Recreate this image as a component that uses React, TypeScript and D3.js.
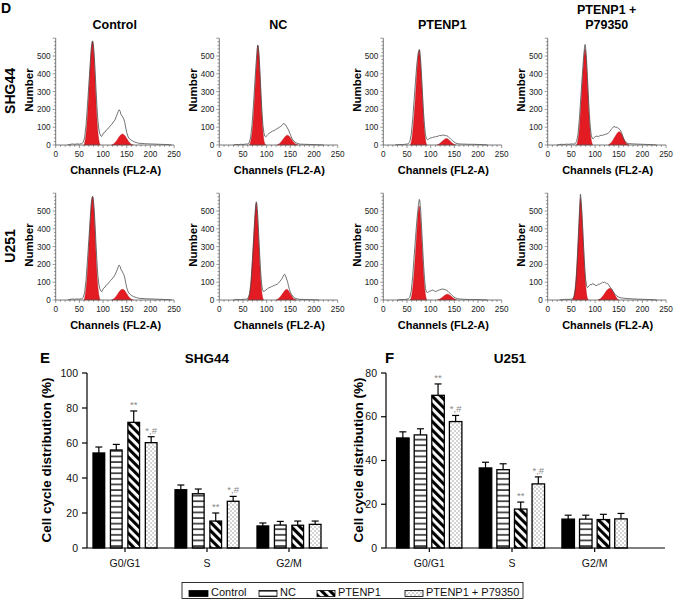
import React from "react";
import * as d3 from "d3";

// ---------- Flow cytometry histograms (channel, count) ----------
const CHANNEL_TICKS = [0, 50, 100, 150, 200, 250];
const COUNT_TICKS = [0, 100, 200, 300, 400, 500];
const HIST_TITLES = ["Control", "NC", "PTENP1", "PTENP1 + P79350"];
const CELL_LINES = ["SHG44", "U251"];

type P = [number, number];

const SHG44_CONTROL_LINE: P[] = [[25,0],[30,3],[35,6],[40,4],[45,6],[50,5],[55,8],[58,15],[61,40],[64,110],[67,220],[70,340],[73,460],[75,540],[77,580],[78,585],[79,575],[81,520],[83,430],[85,320],[87,220],[89,140],[91,90],[93,65],[95,52],[97,48],[99,58],[101,68],[104,72],[107,85],[110,90],[113,100],[116,110],[119,118],[122,130],[125,140],[128,160],[130,175],[132,188],[134,198],[136,190],[138,170],[140,165],[142,155],[144,145],[146,125],[148,95],[150,70],[153,45],[156,34],[160,26],[165,19],[170,14],[175,10],[180,9],[190,7],[200,6],[210,5],[220,4],[230,3],[240,2],[245,0]];
const SHG44_CONTROL_G1: P[] = [[60,0],[63,40],[66,120],[69,250],[72,400],[75,530],[77,578],[78,582],[80,540],[82,440],[84,320],[86,200],[88,110],[90,50],[92,15],[94,0]];
const SHG44_CONTROL_G2: P[] = [[118,0],[122,5],[126,15],[130,30],[134,47],[138,58],[141,62],[144,58],[148,45],[152,28],[156,12],[160,4],[164,0]];

const SHG44_NC_LINE: P[] = [[30,0],[35,3],[40,2],[45,4],[50,3],[55,5],[60,6],[63,12],[66,40],[69,110],[72,220],[75,350],[78,470],[80,540],[81,562],[82,555],[84,500],[86,400],[88,290],[90,190],[92,115],[94,70],[96,50],[98,45],[100,52],[103,60],[106,68],[109,72],[112,78],[115,80],[118,85],[121,90],[124,95],[127,100],[130,105],[133,112],[136,122],[138,118],[140,112],[143,100],[146,85],[149,65],[152,45],[155,30],[158,20],[162,12],[166,8],[170,5],[180,4],[190,3],[200,2],[210,1],[220,0]];
const SHG44_NC_G1: P[] = [[64,0],[67,30],[70,90],[73,200],[76,340],[79,480],[81,555],[82,558],[84,500],[86,390],[88,270],[90,160],[92,80],[94,30],[96,8],[98,0]];
const SHG44_NC_G2: P[] = [[122,0],[126,6],[130,16],[134,30],[138,44],[142,54],[144,55],[147,50],[151,38],[155,22],[159,10],[163,3],[166,0]];

const SHG44_PTENP1_LINE: P[] = [[25,0],[30,2],[35,3],[40,2],[45,4],[50,5],[53,8],[56,20],[59,60],[62,140],[65,250],[68,360],[71,460],[74,520],[76,537],[77,530],[79,470],[81,380],[83,280],[85,180],[87,110],[89,60],[91,35],[93,30],[95,32],[98,38],[101,40],[104,42],[107,45],[110,46],[113,48],[116,50],[119,54],[122,52],[125,56],[128,55],[131,53],[134,52],[137,48],[140,40],[143,32],[146,25],[149,18],[152,12],[156,8],[160,6],[170,5],[180,4],[190,4],[200,3],[210,2],[220,0]];
const SHG44_PTENP1_G1: P[] = [[57,0],[60,30],[63,100],[66,200],[69,320],[72,450],[75,530],[76,532],[78,490],[80,400],[82,300],[84,200],[86,110],[88,50],[90,15],[92,0]];
const SHG44_PTENP1_G2: P[] = [[113,0],[117,4],[121,12],[125,22],[129,31],[133,36],[136,34],[139,28],[142,20],[146,10],[150,3],[153,0]];

const SHG44_P79350_LINE: P[] = [[20,0],[25,3],[30,4],[35,3],[40,5],[45,4],[50,6],[55,5],[58,8],[61,20],[64,60],[67,150],[70,270],[73,390],[76,500],[78,555],[79,565],[80,550],[82,480],[84,380],[86,270],[88,170],[90,100],[92,55],[94,38],[96,35],[98,42],[101,48],[104,50],[107,47],[110,52],[113,55],[116,54],[119,58],[122,60],[125,62],[128,68],[131,75],[134,88],[137,95],[140,105],[142,102],[144,98],[146,100],[148,96],[150,92],[153,85],[156,70],[159,45],[162,25],[166,12],[170,8],[180,6],[190,5],[200,4],[210,3],[220,2],[230,0]];
const SHG44_P79350_G1: P[] = [[61,0],[64,30],[67,100],[70,220],[73,350],[76,470],[78,530],[79,540],[81,500],[83,400],[85,290],[87,180],[89,100],[91,45],[93,15],[95,0]];
const SHG44_P79350_G2: P[] = [[128,0],[132,8],[136,20],[140,38],[144,55],[148,70],[151,75],[154,70],[158,50],[162,28],[166,10],[169,3],[172,0]];

const U251_CONTROL_LINE: P[] = [[25,0],[30,3],[35,6],[40,4],[45,6],[50,5],[55,7],[58,14],[61,40],[64,110],[67,220],[70,340],[73,460],[75,540],[77,578],[78,583],[79,572],[81,520],[83,430],[85,320],[87,220],[89,140],[91,90],[93,65],[95,52],[97,46],[99,56],[101,66],[104,72],[107,84],[110,90],[113,100],[116,110],[119,118],[122,128],[125,140],[128,158],[130,172],[132,186],[134,196],[136,188],[138,170],[140,163],[142,152],[144,142],[146,122],[148,94],[150,70],[153,45],[156,34],[160,26],[165,18],[170,14],[175,10],[180,9],[190,7],[200,6],[210,5],[220,4],[230,3],[240,2],[245,0]];
const U251_CONTROL_G1: P[] = [[60,0],[63,40],[66,120],[69,250],[72,400],[75,530],[77,576],[78,580],[80,540],[82,440],[84,320],[86,200],[88,110],[90,50],[92,15],[94,0]];
const U251_CONTROL_G2: P[] = [[118,0],[122,5],[126,15],[130,30],[134,46],[138,57],[141,60],[144,57],[148,44],[152,27],[156,12],[160,4],[164,0]];

const U251_NC_LINE: P[] = [[30,0],[35,2],[40,3],[45,2],[50,4],[55,4],[58,6],[61,12],[64,35],[67,100],[70,220],[73,360],[75,460],[77,530],[78,552],[79,545],[81,480],[83,380],[85,270],[87,170],[89,100],[91,60],[93,48],[95,50],[98,55],[101,62],[104,68],[107,70],[110,75],[113,78],[116,82],[119,85],[122,88],[125,95],[128,105],[131,115],[134,128],[136,140],[138,145],[140,135],[142,118],[144,105],[146,80],[148,60],[150,45],[153,30],[156,18],[160,10],[165,6],[170,4],[180,3],[190,2],[200,1],[210,0]];
const U251_NC_G1: P[] = [[60,0],[63,25],[66,80],[69,190],[72,330],[75,460],[77,535],[78,545],[80,500],[82,400],[84,290],[86,180],[88,95],[90,40],[92,10],[94,0]];
const U251_NC_G2: P[] = [[120,0],[124,6],[128,16],[132,30],[136,45],[140,57],[142,60],[145,56],[148,44],[152,26],[156,10],[160,3],[163,0]];

const U251_PTENP1_LINE: P[] = [[30,0],[35,2],[40,3],[45,2],[50,5],[53,7],[56,15],[59,50],[62,130],[65,240],[68,350],[71,450],[74,530],[76,565],[77,560],[79,500],[81,400],[83,300],[85,200],[87,120],[89,65],[91,45],[93,42],[95,45],[98,50],[101,52],[104,56],[107,52],[110,48],[113,50],[116,54],[119,57],[122,60],[125,62],[128,60],[131,58],[134,54],[137,48],[140,40],[143,32],[146,24],[149,17],[152,12],[156,8],[160,6],[170,4],[180,3],[190,3],[200,2],[210,1],[220,0]];
const U251_PTENP1_G1: P[] = [[57,0],[60,25],[63,90],[66,190],[69,310],[72,430],[75,520],[76,528],[78,480],[80,390],[82,290],[84,190],[86,110],[88,50],[90,15],[92,0]];
const U251_PTENP1_G2: P[] = [[114,0],[118,4],[122,10],[126,18],[130,26],[134,32],[136,33],[139,30],[143,22],[147,12],[151,5],[155,0]];

const U251_P79350_LINE: P[] = [[25,0],[30,2],[35,3],[40,4],[45,3],[50,5],[53,8],[56,20],[58,50],[60,110],[62,200],[64,310],[66,430],[68,540],[69,594],[70,580],[72,500],[74,400],[76,290],[78,190],[80,120],[82,80],[84,70],[86,75],[88,82],[90,88],[92,85],[94,92],[96,88],[98,90],[100,84],[102,80],[104,82],[106,86],[108,90],[110,88],[112,94],[114,96],[116,100],[118,98],[120,102],[122,96],[124,92],[126,94],[128,88],[130,80],[132,72],[134,65],[136,58],[138,48],[140,40],[143,30],[146,22],[150,16],[155,12],[160,10],[165,9],[170,8],[180,6],[190,5],[200,4],[210,3],[220,2],[230,0]];
const U251_P79350_G1: P[] = [[52,0],[55,20],[58,70],[61,170],[64,320],[66,430],[68,540],[69,570],[71,530],[73,440],[75,330],[77,220],[79,130],[81,60],[83,20],[86,0]];
const U251_P79350_G2: P[] = [[106,0],[110,5],[114,14],[118,28],[122,44],[126,57],[130,65],[132,66],[135,60],[138,48],[141,32],[144,18],[147,6],[150,0]];

const HIST_LINES = [
  [SHG44_CONTROL_LINE, SHG44_NC_LINE, SHG44_PTENP1_LINE, SHG44_P79350_LINE],
  [U251_CONTROL_LINE, U251_NC_LINE, U251_PTENP1_LINE, U251_P79350_LINE],
];
const HIST_G1 = [
  [SHG44_CONTROL_G1, SHG44_NC_G1, SHG44_PTENP1_G1, SHG44_P79350_G1],
  [U251_CONTROL_G1, U251_NC_G1, U251_PTENP1_G1, U251_P79350_G1],
];
const HIST_G2 = [
  [SHG44_CONTROL_G2, SHG44_NC_G2, SHG44_PTENP1_G2, SHG44_P79350_G2],
  [U251_CONTROL_G2, U251_NC_G2, U251_PTENP1_G2, U251_P79350_G2],
];

// ---------- Bar charts ----------
const PHASES = ["G0/G1", "S", "G2/M"];
const GROUPS = ["Control", "NC", "PTENP1", "PTENP1 + P79350"];

const SHG44_CONTROL = [54.3, 33.3, 12.6];
const SHG44_NC = [56.0, 31.0, 13.1];
const SHG44_PTENP1 = [71.8, 15.4, 13.0];
const SHG44_P79350 = [60.2, 26.7, 13.5];
const SHG44_CONTROL_SD = [3.4, 2.7, 1.7];
const SHG44_NC_SD = [3.2, 2.7, 2.1];
const SHG44_PTENP1_SD = [6.5, 4.6, 2.4];
const SHG44_P79350_SD = [3.4, 2.8, 1.9];

const U251_CONTROL = [50.3, 36.6, 13.2];
const U251_NC = [51.7, 35.8, 13.2];
const U251_PTENP1 = [69.8, 17.8, 13.0];
const U251_P79350 = [57.8, 29.3, 13.3];
const U251_CONTROL_SD = [2.8, 2.6, 1.8];
const U251_NC_SD = [2.8, 2.7, 1.8];
const U251_PTENP1_SD = [5.2, 3.2, 2.4];
const U251_P79350_SD = [2.8, 3.2, 2.5];

const SIG_PTENP1 = ["**", "**", ""];
const SIG_P79350 = ["*,#", "*,#", ""];
const SIG_NONE = ["", "", ""];

const SHG44_TICKS = [0, 20, 40, 60, 80, 100];
const U251_TICKS = [0, 20, 40, 60, 80];

const FONT = "Arial, 'Liberation Sans', Helvetica, sans-serif";
const RED = "#e31b23";
const FILLS = ["#000", "url(#hlines)", "url(#diag)", "url(#dots)"];

function Histogram({ x0, y0, line, g1, g2, title, showTitle }: any) {
  const x = d3.scaleLinear().domain([0, 250]).range([x0, x0 + 118.4]);
  const y = d3.scaleLinear().domain([0, 600]).range([y0, y0 - 106.8]);
  const ln = d3.line<P>().x((d) => x(d[0])).y((d) => y(d[1]));
  const ar = d3
    .area<P>()
    .x((d) => x(d[0]))
    .y0(y(0))
    .y1((d) => y(d[1]))
    .curve(d3.curveMonotoneX);
  const minorX = d3.range(0, 251, 10);
  const minorY = d3.range(0, 601, 20);
  const titleLines = title.includes("+") ? [title.split(" + ")[0] + " +", title.split(" + ")[1]] : [title];
  return (
    <g>
      {showTitle &&
        titleLines.map((t: string, i: number) => (
          <text
            key={i}
            x={x0 + 59}
            y={titleLines.length === 1 ? 29 : 14 + i * 15}
            textAnchor="middle"
            fontSize={12.5}
            fontWeight="bold"
          >
            {t}
          </text>
        ))}
      <path d={ar(g1) || ""} fill={RED} stroke="#b01218" strokeWidth={0.4} />
      <path d={ar(g2) || ""} fill={RED} stroke="#b01218" strokeWidth={0.4} />
      <path d={ln(line) || ""} fill="none" stroke="#444" strokeWidth={0.75} />
      <line x1={x(0)} x2={x(250)} y1={y(0)} y2={y(0)} stroke="#555" strokeWidth={0.8} />
      <line x1={x(0)} x2={x(0)} y1={y(0)} y2={y(600)} stroke="#555" strokeWidth={0.8} />
      {minorX.map((v) => (
        <line key={"mx" + v} x1={x(v)} x2={x(v)} y1={y(0)} y2={y(0) + (v % 50 === 0 ? 3 : 1.8)} stroke="#555" strokeWidth={0.6} />
      ))}
      {minorY.map((v) => (
        <line key={"my" + v} x1={x(0)} x2={x(0) - (v % 100 === 0 ? 3 : 1.8)} y1={y(v)} y2={y(v)} stroke="#555" strokeWidth={0.6} />
      ))}
      {CHANNEL_TICKS.map((v) => (
        <text key={"tx" + v} x={x(v)} y={y0 + 12} textAnchor="middle" fontSize={8.2} fill="#222">
          {v}
        </text>
      ))}
      {COUNT_TICKS.map((v) => (
        <text key={"ty" + v} x={x0 - 5} y={y(v) + 3} textAnchor="end" fontSize={8.2} fill="#222">
          {v}
        </text>
      ))}
      <text transform={`translate(${x0 - 22.5},${y0 - 55}) rotate(-90)`} textAnchor="middle" fontSize={11.5} fontWeight="bold">
        Number
      </text>
      <text x={x0 + 60} y={y0 + 28.5} textAnchor="middle" fontSize={11} fontWeight="bold">
        Channels (FL2-A)
      </text>
    </g>
  );
}

function BarChart({ means, sds, sigs, ticks, yMax, axisX0, axisX1, bandRange, subRange, subPad, title, titleX, letter, letterX, ylabelX }: any) {
  const y = d3.scaleLinear().domain([0, yMax]).range([548, 373]);
  const xb = d3.scaleBand().domain(PHASES).range(bandRange);
  const xs = d3.scaleBand().domain(GROUPS).range(subRange).paddingInner(subPad);
  const bw = xs.bandwidth();
  return (
    <g>
      <text x={letterX} y={363} fontSize={15} fontWeight="bold">
        {letter}
      </text>
      <text x={titleX} y={363} textAnchor="middle" fontSize={13.5} fontWeight="bold">
        {title}
      </text>
      {PHASES.map((ph, ci) =>
        GROUPS.map((g, si) => {
          const bx = (xb(ph) as number) + (xs(g) as number);
          const v = means[si][ci];
          const top = y(v);
          const et = y(v + sds[si][ci]);
          const cx = bx + bw / 2;
          return (
            <g key={ph + g}>
              <line x1={cx} x2={cx} y1={top} y2={et} stroke="#000" strokeWidth={1.2} />
              <line x1={cx - 3.5} x2={cx + 3.5} y1={et} y2={et} stroke="#000" strokeWidth={1.2} />
              <rect x={bx} y={top} width={bw} height={548 - top} fill={FILLS[si]} stroke="#000" strokeWidth={1.3} />
              {sigs[si][ci] && (
                <text x={cx} y={et - 3} textAnchor="middle" fontSize={9.5} fill="#8a8a8a">
                  {sigs[si][ci]}
                </text>
              )}
            </g>
          );
        })
      )}
      <line x1={axisX0} x2={axisX1} y1={548} y2={548} stroke="#000" strokeWidth={1.2} />
      <line x1={axisX0} x2={axisX0} y1={548} y2={373} stroke="#000" strokeWidth={1.2} />
      {ticks.map((t: number) => (
        <g key={t}>
          <line x1={axisX0 - 5} x2={axisX0} y1={y(t)} y2={y(t)} stroke="#000" strokeWidth={1.2} />
          <text x={axisX0 - 9} y={y(t) + 3.7} textAnchor="end" fontSize={10.5} fill="#111">
            {t}
          </text>
        </g>
      ))}
      {PHASES.map((ph) => {
        const cx = (xb(ph) as number) + xb.bandwidth() / 2;
        return (
          <g key={ph}>
            <line x1={cx} x2={cx} y1={548} y2={552} stroke="#000" strokeWidth={1.2} />
            <text x={cx} y={567} textAnchor="middle" fontSize={10.5} fill="#111">
              {ph}
            </text>
          </g>
        );
      })}
      <text transform={`translate(${ylabelX},460) rotate(-90)`} textAnchor="middle" fontSize={13.5} fontWeight="bold">
        Cell cycle distribution (%)
      </text>
    </g>
  );
}

export default function App() {
  const histX0 = [55.7, 219.3, 383.3, 547.7];
  const rowY0 = [145, 300];
  const legendX = [189, 259, 317, 405];
  const legendW = [19, 18, 18, 18];
  return (
    <svg
      width={674}
      height={600}
      style={{ position: "absolute", left: 0, top: 0, background: "#fff" }}
      fontFamily={FONT}
    >
      <defs>
        <pattern id="hlines" patternUnits="userSpaceOnUse" width="8" height="5.6">
          <rect width="8" height="5.6" fill="#fff" />
          <rect y="2.2" width="8" height="1.3" fill="#000" />
        </pattern>
        <pattern id="diag" patternUnits="userSpaceOnUse" width="6" height="6" patternTransform="rotate(-45)">
          <rect width="6" height="6" fill="#fff" />
          <rect width="3.1" height="6" fill="#000" />
        </pattern>
        <pattern id="dots" patternUnits="userSpaceOnUse" width="4" height="4">
          <rect width="4" height="4" fill="#fff" />
          <circle cx="1" cy="1" r="0.7" fill="#888" />
          <circle cx="3" cy="3" r="0.7" fill="#888" />
        </pattern>
      </defs>
      <rect width={674} height={600} fill="#fff" />
      <text x={1} y={13} fontSize={14} fontWeight="bold">
        D
      </text>
      {CELL_LINES.map((cl, r) => (
        <g key={cl}>
          <text transform={`translate(15,${rowY0[r] - 54}) rotate(-90)`} textAnchor="middle" fontSize={14} fontWeight="bold">
            {cl}
          </text>
          {HIST_TITLES.map((t, c) => (
            <Histogram
              key={t}
              x0={histX0[c]}
              y0={rowY0[r]}
              line={HIST_LINES[r][c]}
              g1={HIST_G1[r][c]}
              g2={HIST_G2[r][c]}
              title={t}
              showTitle={r === 0}
            />
          ))}
        </g>
      ))}
      <BarChart
        means={[SHG44_CONTROL, SHG44_NC, SHG44_PTENP1, SHG44_P79350]}
        sds={[SHG44_CONTROL_SD, SHG44_NC_SD, SHG44_PTENP1_SD, SHG44_P79350_SD]}
        sigs={[SIG_NONE, SIG_NONE, SIG_PTENP1, SIG_P79350]}
        ticks={SHG44_TICKS}
        yMax={100}
        axisX0={87}
        axisX1={328}
        bandRange={[84, 330]}
        subRange={[9, 73]}
        subPad={0.33}
        title="SHG44"
        titleX={207}
        letter="E"
        letterX={40}
        ylabelX={51}
      />
      <BarChart
        means={[U251_CONTROL, U251_NC, U251_PTENP1, U251_P79350]}
        sds={[U251_CONTROL_SD, U251_NC_SD, U251_PTENP1_SD, U251_P79350_SD]}
        sigs={[SIG_NONE, SIG_NONE, SIG_PTENP1, SIG_P79350]}
        ticks={U251_TICKS}
        yMax={80}
        axisX0={386}
        axisX1={665}
        bandRange={[388, 636]}
        subRange={[8.6, 73.9]}
        subPad={0.29}
        title="U251"
        titleX={510}
        letter="F"
        letterX={385}
        ylabelX={363}
      />
      <rect x={182} y={582.5} width={341} height={16} fill="#fff" stroke="#000" strokeWidth={0.8} />
      {GROUPS.map((g, i) => (
        <g key={g}>
          <rect x={legendX[i]} y={590.5} width={legendW[i]} height={6} fill={FILLS[i]} stroke="#000" strokeWidth={0.8} />
          <text x={legendX[i] + legendW[i] + 3} y={596} fontSize={11} fill="#111">
            {g}
          </text>
        </g>
      ))}
    </svg>
  );
}
